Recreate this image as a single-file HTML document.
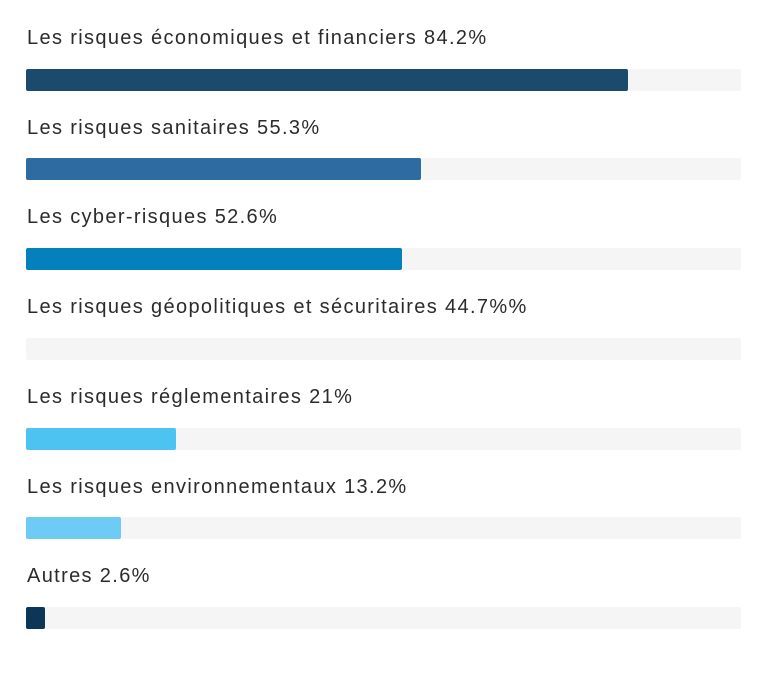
<!DOCTYPE html>
<html><head><meta charset="utf-8"><style>
body{margin:0;width:770px;height:673px;background:#fff;font-family:"Liberation Sans",sans-serif;position:relative;overflow:hidden}
.l{position:absolute;left:27px;font-size:20px;color:#2b2b2b;letter-spacing:1.35px;white-space:nowrap;line-height:24px}
.t{position:absolute;left:26px;width:715px;height:22px;background:#f5f5f5;border-radius:2px}
.b{height:22px;border-radius:2px}
</style></head><body>
<div class="l" style="top:26px">Les risques économiques et financiers 84.2%</div>
<div class="t" style="top:69px"><div class="b" style="width:602px;background:#1a4a6c"></div></div>
<div class="l" style="top:116px">Les risques sanitaires 55.3%</div>
<div class="t" style="top:158px"><div class="b" style="width:395px;background:#2e6ba1"></div></div>
<div class="l" style="top:205px">Les cyber-risques 52.6%</div>
<div class="t" style="top:248px"><div class="b" style="width:376px;background:#0480bd"></div></div>
<div class="l" style="top:295px">Les risques géopolitiques et sécuritaires 44.7%%</div>
<div class="t" style="top:338px"></div>
<div class="l" style="top:385px">Les risques réglementaires 21%</div>
<div class="t" style="top:428px"><div class="b" style="width:150px;background:#4cc3f1"></div></div>
<div class="l" style="top:475px">Les risques environnementaux 13.2%</div>
<div class="t" style="top:517px"><div class="b" style="width:95px;background:#6ecbf5"></div></div>
<div class="l" style="top:564px">Autres 2.6%</div>
<div class="t" style="top:607px"><div class="b" style="width:19px;background:#0d3656"></div></div>
</body></html>
